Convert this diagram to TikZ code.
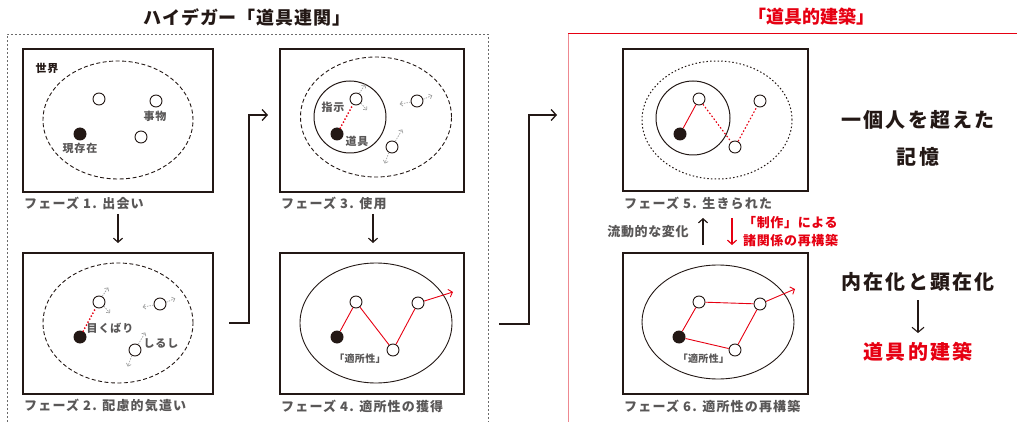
\documentclass[tikz,border=0pt]{standalone}
\usepackage{fontspec}
\setmainfont{Noto Sans CJK JP}
\usetikzlibrary{shapes.geometric,arrows.meta}
\definecolor{ink}{HTML}{231815}
\definecolor{gtext}{HTML}{595757}
\definecolor{jred}{HTML}{E60012}
\definecolor{garrow}{HTML}{9FA0A0}
\definecolor{pinkline}{HTML}{EE8890}
\definecolor{boxgray}{HTML}{6A6A6A}
\newcommand{\jfs}[2]{\fontsize{#1}{#1}\selectfont\bfseries\addfontfeature{LetterSpace=#2}}
\begin{document}
\begin{tikzpicture}[x=1pt,y=-1pt,
  panel/.style={draw=ink,line width=1.1pt,rectangle,inner sep=0pt},
  opn/.style={circle,draw=ink,fill=white,line width=0.9pt,minimum size=12pt,inner sep=0pt},
  fil/.style={circle,fill=ink,minimum size=13pt,inner sep=0pt},
  world/.style={ellipse,draw=ink,line width=0.9pt,inner sep=0pt},
  dashw/.style={world,dash pattern=on 4pt off 2.5pt},
  dotw/.style={world,line width=1pt,dash pattern=on 1.5pt off 2.2pt},
  capt/.style={anchor=west,text=gtext,font=\jfs{13}{9},inner sep=0pt},
  lab/.style={text=gtext,font=\jfs{11}{8},inner sep=0pt},
  garr/.style={draw=garrow,line width=0.7pt,dash pattern=on 1.5pt off 1.2pt,-{Straight Barb[length=2.5pt,width=5pt]}},
  reddot/.style={draw=jred,line width=2pt,dash pattern=on 0pt off 3.4pt,line cap=round},
  reddash/.style={draw=jred,line width=1.1pt,dash pattern=on 1.6pt off 2pt},
  redln/.style={draw=jred,line width=0.9pt},
  redarr/.style={redln,-{Straight Barb[length=3.5pt,width=8pt]}},
  bigarr/.style={draw=ink,line width=1.3pt,-{Straight Barb[length=5pt,width=11pt]}},
  dnarr/.style={draw=ink,line width=1.2pt,-{Straight Barb[length=4pt,width=9pt]}},
  bigtext/.style={text=ink,font=\jfs{20}{11},inner sep=0pt},
  midtext/.style={font=\jfs{13}{5},inner sep=0pt}
]
\useasboundingbox (0,0) rectangle (1017,422);
% frames
\draw[boxgray,line width=0.6pt,dash pattern=on 2pt off 2pt] (7,422) -- (7,34) -- (488,34) -- (488,422);
\draw[jred,line width=1pt] (568,34) -- (1017,34);
\draw[pinkline,line width=1pt] (568,34) -- (568,422);
% titles
\node[font=\jfs{18}{5},text=ink] (t1) at (247,17) {ハイデガー「道具連関」};
\node[font=\jfs{18}{0},text=jred] (t2) at (811,17) {「道具的建築」};

% ---- panel 1
\node[panel,minimum width=190pt,minimum height=143pt] (P1) at (118,120.5) {};
\node[dashw,minimum width=150pt,minimum height=118pt] (W1) at (118,120) {};
\node[opn] (a1) at (99,99) {};
\node[opn] (b1) at (156,101) {};
\node[opn] (c1) at (141,137) {};
\node[fil] (d1) at (80,134) {};
\node[font=\jfs{11}{8},text=ink] (l1) at (47,68) {世界};
\node[lab] (l2) at (155,116) {事物};
\node[lab] (l3) at (80,148) {現存在};
\node[capt] (cap1) at (24,203) {フェーズ 1. 出会い};

% ---- panel 2
\node[panel,minimum width=190pt,minimum height=141pt] (P2) at (118,323.5) {};
\node[dashw,minimum width=150pt,minimum height=120pt] (W2) at (118,323) {};
\node[opn] (a2) at (99,302) {};
\node[opn] (b2) at (160,304) {};
\node[opn] (c2) at (135,350) {};
\node[fil] (d2) at (80,337) {};
\draw[reddot] (d2) -- (a2);
\node[lab] (l4) at (110,328) {目くばり};
\node[lab] (l5) at (161,343) {しるし};
\draw[garr] (a2.60) -- ++(6,-9);
\draw[garr] (a2.-40) -- ++(6,7);
\draw[garr] (b2.190) -- ++(-11,2);
\draw[garr] (b2.15) -- ++(9,-4);
\draw[garr] (c2.60) -- ++(7,-12);
\draw[garr] (c2.240) -- ++(-4,11);
\node[capt] (cap2) at (24,406) {フェーズ 2. 配慮的気遣い};

% ---- panel 3
\node[panel,minimum width=184pt,minimum height=143pt] (P3) at (372,120.5) {};
\node[dashw,minimum width=151pt,minimum height=120pt] (W3) at (376,117) {};
\node[circle,draw=ink,line width=1pt,minimum size=72pt,inner sep=0pt] (I3) at (350,117) {};
\node[opn] (a3) at (356,99) {};
\node[opn] (b3) at (417,101) {};
\node[opn] (c3) at (392,147) {};
\node[fil] (d3) at (337,134) {};
\draw[reddot] (d3) -- (a3);
\node[lab] (l6) at (333,107) {指示};
\node[lab] (l7) at (357,141) {道具};
\draw[garr] (a3.60) -- ++(6,-9);
\draw[garr] (a3.-40) -- ++(6,7);
\draw[garr] (b3.190) -- ++(-11,2);
\draw[garr] (b3.15) -- ++(9,-4);
\draw[garr] (c3.60) -- ++(7,-12);
\draw[garr] (c3.240) -- ++(-4,11);
\node[capt] (cap3) at (281,203) {フェーズ 3. 使用};

% ---- panel 4
\node[panel,minimum width=184pt,minimum height=141pt] (P4) at (372,323.5) {};
\node[world,minimum width=152pt,minimum height=120pt] (W4) at (376,323) {};
\node[opn] (a4) at (356,302) {};
\node[opn] (c4) at (393,350) {};
\node[opn] (b4) at (418,303) {};
\node[fil] (d4) at (337,337) {};
\coordinate (e4) at (453,292);
\draw[redln] (d4) -- (a4);
\draw[redln] (a4) -- (c4);
\draw[redln] (c4) -- (b4);
\draw[redarr] (b4) -- (e4);
\node[text=gtext,font=\jfs{10}{3},inner sep=0pt] (l8) at (360,358.5) {「適所性」};
\node[capt] (cap4) at (281,406) {フェーズ 4. 適所性の獲得};

% ---- arrows between panels
\coordinate (s12) at (118,214); \coordinate (e12) at (118,243);
\draw[dnarr] (s12) -- (e12);
\coordinate (s34) at (373,214); \coordinate (e34) at (373,243);
\draw[dnarr] (s34) -- (e34);
\coordinate (s23) at (229,323); \coordinate (e23) at (268,115);
\draw[bigarr] (s23) -- (249,323) -- (249,115) -- (e23);
\coordinate (s45) at (499,324); \coordinate (e45) at (557,115);
\draw[bigarr] (s45) -- (529,324) -- (529,115) -- (e45);

% ---- panel 5
\node[panel,minimum width=185pt,minimum height=142pt] (P5) at (715.5,120) {};
\node[dotw,minimum width=150pt,minimum height=118pt] (W5) at (717,120) {};
\node[circle,draw=ink,line width=1pt,minimum size=74pt,inner sep=0pt] (I5) at (693,118) {};
\node[opn] (a5) at (699,99) {};
\node[opn] (c5) at (735,147) {};
\node[opn] (b5) at (760,101) {};
\node[fil] (d5) at (680,134) {};
\draw[redln] (d5) -- (a5);
\draw[reddash] (a5) -- (c5);
\draw[reddash] (c5) -- (b5);
\node[capt] (cap5) at (624,203) {フェーズ 5. 生きられた};

% ---- between 5 and 6
\node[midtext,text=gtext] (m1) at (648,232) {流動的な変化};
\coordinate (u1) at (703,245); \coordinate (u2) at (703,218);
\draw[dnarr] (u1) -- (u2);
\coordinate (r1) at (732,218); \coordinate (r2) at (732,245);
\draw[dnarr,draw=jred] (r1) -- (r2);
\node[midtext,text=jred,anchor=west] (m2) at (743,223) {「制作」による};
\node[midtext,text=jred,anchor=west] (m3) at (743,241) {諸関係の再構築};

% ---- panel 6
\node[panel,minimum width=185pt,minimum height=141pt] (P6) at (715.5,323.5) {};
\node[world,minimum width=152pt,minimum height=114pt] (W6) at (718,322) {};
\node[opn] (a6) at (699,302) {};
\node[opn] (b6) at (760,304) {};
\node[opn] (c6) at (735,350) {};
\node[fil] (d6) at (679,337) {};
\coordinate (e6) at (795,289);
\draw[redln] (d6) -- (a6);
\draw[redln] (a6) -- (b6);
\draw[redln] (d6) -- (c6);
\draw[redln] (c6) -- (b6);
\draw[redarr] (b6) -- (e6);
\node[text=gtext,font=\jfs{10}{3},inner sep=0pt] (l9) at (703.5,358.5) {「適所性」};
\node[capt] (cap6) at (624,406) {フェーズ 6. 適所性の再構築};

% ---- right texts
\node[bigtext] (x1) at (918,120) {一個人を超えた};
\node[bigtext] (x2) at (918,157) {記憶};
\node[bigtext] (x3) at (918,282) {内在化と顕在化};
\node[bigtext,text=jred] (x4) at (918,352) {道具的建築};
\coordinate (y1) at (918,300); \coordinate (y2) at (918,333);
\draw[draw=ink,line width=1.1pt,-{Straight Barb[length=5pt,width=12pt]}] (y1) -- (y2);
\end{tikzpicture}
\end{document}
